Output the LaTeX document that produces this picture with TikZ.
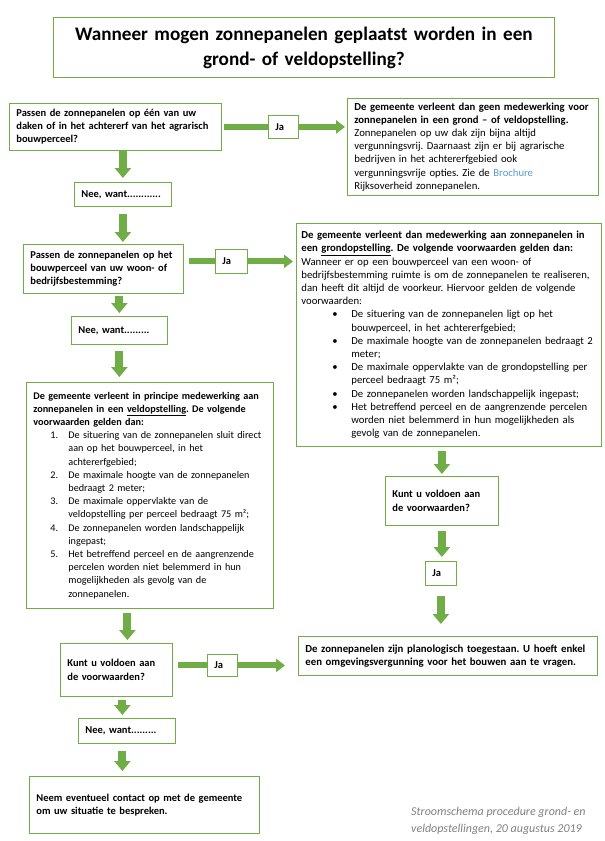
\documentclass[tikz,border=0pt]{standalone}
\usepackage{fontspec}
\setmainfont{Carlito}
\usepackage{tikz}
\usetikzlibrary{arrows.meta, calc}
\definecolor{schemagreen}{RGB}{112,173,71}
\definecolor{linkblue}{RGB}{91,155,213}
\definecolor{notegrey}{RGB}{128,128,128}
\frenchspacing
\hyphenpenalty=10000
\exhyphenpenalty=10000
\tikzstyle{box} = [rectangle, draw=schemagreen, line width=0.8pt, anchor=north west, inner xsep=7pt, inner ysep=4pt, align=left, font=\fontsize{10.5}{13.2}\selectfont]
\tikzstyle{bigbox} = [box, font=\fontsize{10.7}{13.2}\selectfont]
\tikzstyle{listbox} = [box, font=\fontsize{10.2}{13.2}\selectfont]
\tikzstyle{titlebox} = [rectangle, draw=schemagreen, line width=0.8pt, anchor=north west, minimum width=501pt, minimum height=60pt, text width=491pt, align=center, font=\fontsize{19.2}{25}\selectfont\bfseries]
\tikzstyle{note} = [anchor=north west, inner sep=0pt, align=left, text=notegrey, font=\fontsize{12}{16.7}\selectfont\itshape]
\tikzstyle{arrow} = [draw=schemagreen, line width=8pt, -{Triangle[length=10pt,width=16pt]}]
\tikzstyle{harrow} = [draw=schemagreen, line width=6pt, -{Triangle[length=9pt,width=13pt]}]
\tikzstyle{hline} = [draw=schemagreen, line width=6pt]
% opsommingen in de voorwaarden
\newcommand{\bulitem}[1]{{\leftskip=50pt\noindent\llap{\makebox[19pt][l]{•}}#1\par}}
\newcommand{\numitem}[2]{{\leftskip=35pt\noindent\llap{\makebox[18pt][l]{#1}}#2\par}}

\begin{document}
\begin{tikzpicture}[x=1pt, y=-1pt]
    \useasboundingbox (0,0) rectangle (605,841);

    \node (title) [titlebox] at (53,17) {Wanneer mogen zonnepanelen geplaatst worden in een\\ grond- of veldopstelling?};

    \node (dak) [box, text width=198pt, minimum height=47pt, font=\fontsize{10.5}{13.2}\selectfont\bfseries] at (9,103) {Passen de zonnepanelen op één van uw\\ daken of in het achtererf van het agrarisch\\ bouwperceel?};
    \node (ja1) [box, text width=16pt, minimum height=23pt, font=\fontsize{10.5}{13.2}\selectfont\bfseries] at (268,115) {Ja};
    \node (geen) [bigbox, text width=237pt, minimum height=97pt] at (347,98) {{\bfseries De gemeente verleent dan geen medewerking voor\\ zonnepanelen in een grond – of veldopstelling.}\\
        Zonnepanelen op uw dak zijn bijna altijd\\ vergunningsvrij. Daarnaast zijn er bij agrarische\\ bedrijven in het achtererfgebied ook\\ vergunningsvrije opties. Zie de {\color{linkblue}Brochure}\\ Rijksoverheid zonnepanelen.};
    \node (nee1) [box, text width=83pt, minimum height=24pt, font=\fontsize{10.5}{13.2}\selectfont\bfseries] at (74,182) {Nee, want............};

    \node (perceel) [box, text width=146pt, minimum height=49pt, font=\fontsize{10.5}{13.2}\selectfont\bfseries] at (23,244) {Passen de zonnepanelen op het\\ bouwperceel van uw woon- of\\ bedrijfsbestemming?};
    \node (ja2) [box, text width=18pt, minimum height=24pt, font=\fontsize{10.5}{13.2}\selectfont\bfseries] at (215,249) {Ja};
    \node (grond) [bigbox, inner xsep=5pt, text width=295pt, minimum height=223pt] at (296,223) {{\bfseries De gemeente verleent dan medewerking aan zonnepanelen in\\ een \underline{grondopstelling}. De volgende voorwaarden gelden dan:}\\
        Wanneer er op een bouwperceel van een woon- of\\ bedrijfsbestemming ruimte is om de zonnepanelen te realiseren,\\ dan heeft dit altijd de voorkeur. Hiervoor gelden de volgende\\ voorwaarden:\par
        \bulitem{De situering van de zonnepanelen ligt op het\\ bouwperceel, in het achtererfgebied;}
        \bulitem{De maximale hoogte van de zonnepanelen bedraagt 2\\ meter;}
        \bulitem{De maximale oppervlakte van de grondopstelling per\\ perceel bedraagt 75 m²;}
        \bulitem{De zonnepanelen worden landschappelijk ingepast;}
        \bulitem{Het betreffend perceel en de aangrenzende percelen\\ worden niet belemmerd in hun mogelijkheden als\\ gevolg van de zonnepanelen.}};
    \node (nee2) [box, text width=82pt, minimum height=28pt, font=\fontsize{10.5}{13.2}\selectfont\bfseries] at (71,316) {Nee, want.........};

    \node (veld) [listbox, text width=233pt, minimum height=226pt] at (26,382) {{\bfseries De gemeente verleent in principe medewerking aan\\ zonnepanelen in een \underline{veldopstelling}. De volgende\\ voorwaarden gelden dan:}\par
        \numitem{1.}{De situering van de zonnepanelen sluit direct\\ aan op het bouwperceel, in het\\ achtererfgebied;}
        \numitem{2.}{De maximale hoogte van de zonnepanelen\\ bedraagt 2 meter;}
        \numitem{3.}{De maximale oppervlakte van de\\ veldopstelling per perceel bedraagt 75 m²;}
        \numitem{4.}{De zonnepanelen worden landschappelijk\\ ingepast;}
        \numitem{5.}{Het betreffend perceel en de aangrenzende\\ percelen worden niet belemmerd in hun\\ mogelijkheden als gevolg van de\\ zonnepanelen.}};

    \node (voldoen2) [box, text width=99pt, minimum height=49pt, font=\fontsize{10.5}{13.2}\selectfont\bfseries] at (385,476) {Kunt u voldoen aan\\ de voorwaarden?};
    \node (ja4) [box, text width=17pt, minimum height=24pt, font=\fontsize{10.5}{13.2}\selectfont\bfseries] at (425,561) {Ja};

    \node (voldoen1) [box, text width=98pt, minimum height=53pt, font=\fontsize{10.5}{13.2}\selectfont\bfseries] at (60,643) {Kunt u voldoen aan\\ de voorwaarden?};
    \node (ja3) [box, text width=16pt, minimum height=22pt, font=\fontsize{10.5}{13.2}\selectfont\bfseries] at (207,654) {Ja};
    \node (toegestaan) [bigbox, text width=285pt, minimum height=39pt, font=\fontsize{10.8}{13.2}\selectfont\bfseries] at (298,636) {De zonnepanelen zijn planologisch toegestaan. U hoeft enkel\\ een omgevingsvergunning voor het bouwen aan te vragen.};
    \node (nee3) [box, text width=83pt, minimum height=25pt, font=\fontsize{10.5}{13.2}\selectfont\bfseries] at (78,718) {Nee, want.........};
    \node (contact) [box, text width=216pt, minimum height=57pt, font=\fontsize{10.5}{13.2}\selectfont\bfseries] at (29,776) {Neem eventueel contact op met de gemeente\\ om uw situatie te bespreken.};

    \node (datum) [note] at (411,807) {Stroomschema procedure grond- en\\ veldopstellingen, 20 augustus 2019};

    % ja-takken
    \draw [hline, shorten <=2pt] (dak.east |- ja1.west) -- (ja1.west);
    \draw [harrow, shorten >=2pt] (ja1.east) -- (ja1.east -| geen.west);
    \draw [hline, shorten <=5pt] (perceel.east |- ja2.west) -- (ja2.west);
    \draw [harrow, shorten >=3pt] (ja2.east) -- (ja2.east -| grond.west);
    \draw [hline, shorten <=5pt] (voldoen1.east |- ja3.west) -- (ja3.west);
    \draw [harrow, shorten >=13pt] (ja3.east) -- (ja3.east -| toegestaan.west);

    % nee-takken
    \draw [arrow, shorten >=4pt] (nee1.north |- dak.south) -- (nee1.north);
    \draw [arrow, shorten <=7pt, shorten >=2pt] (nee1.south) -- (nee1.south |- perceel.north);
    \draw [arrow, shorten <=2pt, shorten >=3pt] (nee2.north |- perceel.south) -- (nee2.north);
    \draw [arrow, shorten <=6pt, shorten >=5pt] (nee2.south) -- (nee2.south |- veld.north);
    \draw [arrow, shorten <=4pt, shorten >=3pt] ($(voldoen1.north |- veld.south)+(11,0)$) -- ($(voldoen1.north)+(11,0)$);
    \draw [arrow, shorten <=3pt, shorten >=3pt] ($(nee3.north |- voldoen1.south)+(-4.5,0)$) -- ($(nee3.north)+(-4.5,0)$);
    \draw [arrow, shorten <=7pt, shorten >=5pt] ($(nee3.south)+(-4.5,0)$) -- ($(nee3.south |- contact.north)+(-4.5,0)$);
    \draw [arrow, shorten <=4pt, shorten >=2pt] (voldoen2.north |- grond.south) -- (voldoen2.north);
    \draw [arrow, shorten <=5pt, shorten >=4pt] (voldoen2.south) -- (voldoen2.south |- ja4.north);
    \draw [arrow, shorten <=10pt, shorten >=12pt] (ja4.south) -- (ja4.south |- toegestaan.north);
\end{tikzpicture}
\end{document}
